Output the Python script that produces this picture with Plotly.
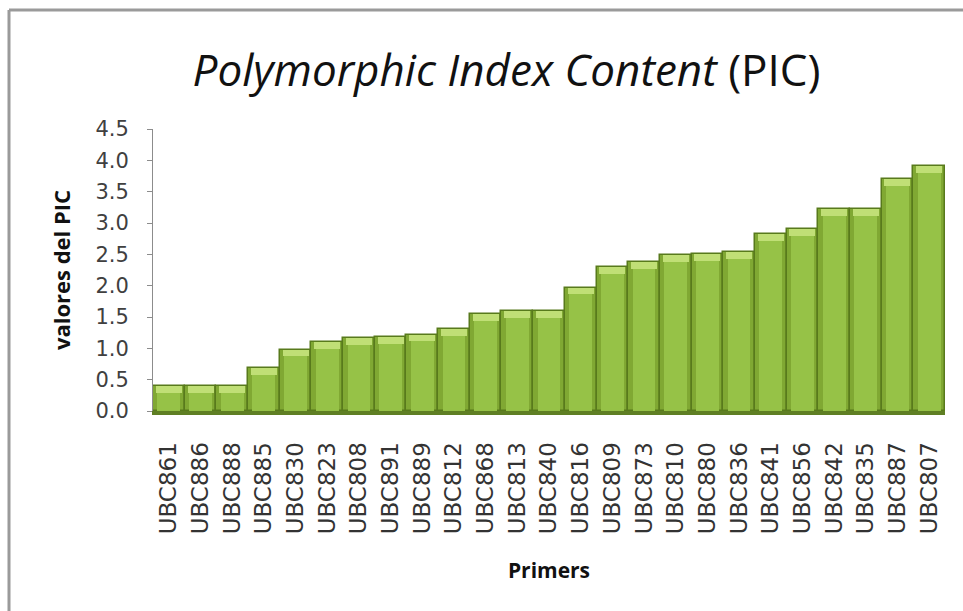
import plotly.graph_objects as go

# Primer names and their PIC values, sorted ascending
primers = ["UBC861", "UBC886", "UBC888", "UBC885", "UBC830", "UBC823", "UBC808",
           "UBC891", "UBC889", "UBC812", "UBC868", "UBC813", "UBC840", "UBC816",
           "UBC809", "UBC873", "UBC810", "UBC880", "UBC836", "UBC841", "UBC856",
           "UBC842", "UBC835", "UBC887", "UBC807"]
pic_values = [0.40, 0.40, 0.40, 0.68, 0.98, 1.10, 1.17, 1.18, 1.22, 1.31, 1.55,
              1.60, 1.60, 1.97, 2.30, 2.37, 2.49, 2.50, 2.54, 2.82, 2.90, 3.22,
              3.22, 3.70, 3.91]
y_ticks = [0.0, 0.5, 1.0, 1.5, 2.0, 2.5, 3.0, 3.5, 4.0, 4.5]

bevel = 0.11
fig = go.Figure()

# body of each column with dark edges
fig.add_trace(go.Bar(
    x=primers, y=pic_values, width=1.0,
    marker=dict(color="#80a833", line=dict(color="#587a1c", width=1.5)),
    hoverinfo="x+y",
))
# lighter central band for a rounded look
fig.add_trace(go.Bar(
    x=primers, y=[v - 0.02 for v in pic_values], width=0.72,
    marker=dict(color="#96c247", line=dict(width=0)),
    hoverinfo="skip",
))
# bright crescent on top of each column
fig.add_trace(go.Bar(
    x=primers, y=[bevel] * len(pic_values),
    base=[v - bevel for v in pic_values], width=0.82,
    marker=dict(color="#c0df76", line=dict(width=0)),
    hoverinfo="skip",
))

fig.update_layout(
    width=963, height=611,
    paper_bgcolor="white", plot_bgcolor="white",
    barmode="overlay", bargap=0,
    showlegend=False,
    margin=dict(l=153, r=18, t=129, b=200),
    title=dict(
        text="<i>Polymorphic Index Content</i> (PIC)",
        x=0.526, xanchor="center", y=0.885, yanchor="middle",
        font=dict(family="Open Sans", size=44, color="#111111"),
    ),
    xaxis=dict(
        type="category",
        tickangle=-90,
        tickfont=dict(family="DejaVu Sans", size=23, color="#333333"),
        ticklabelstandoff=18,
        ticks="",
        showline=True, linecolor="#5f7f24", linewidth=4,
        showgrid=False,
        title=dict(text="<b>Primers</b>", standoff=31,
                   font=dict(family="Open Sans", size=21, color="#111111")),
    ),
    yaxis=dict(
        range=[0, 4.5],
        tickvals=y_ticks,
        ticktext=[f"{t:.1f}" for t in y_ticks],
        tickfont=dict(family="DejaVu Sans", size=21, color="#404040"),
        ticks="outside", ticklen=5, tickcolor="#8c8c8c",
        ticklabelstandoff=14,
        showline=True, linecolor="#8c8c8c", linewidth=1,
        showgrid=False, zeroline=False,
        title=dict(text="<b>valores del PIC</b>", standoff=18,
                   font=dict(family="Open Sans", size=22, color="#111111")),
    ),
    shapes=[
        # outer frame (top and left edges)
        dict(type="line", xref="paper", yref="paper",
             x0=-144 / 792, x1=1 + 18 / 792, y0=1 + 119 / 282, y1=1 + 119 / 282,
             line=dict(color="#9a9a9a", width=3)),
        dict(type="line", xref="paper", yref="paper",
             x0=-144 / 792, x1=-144 / 792, y0=1 + 119 / 282, y1=-200 / 282,
             line=dict(color="#9a9a9a", width=3)),
    ],
)

fig.write_html("out.html")
